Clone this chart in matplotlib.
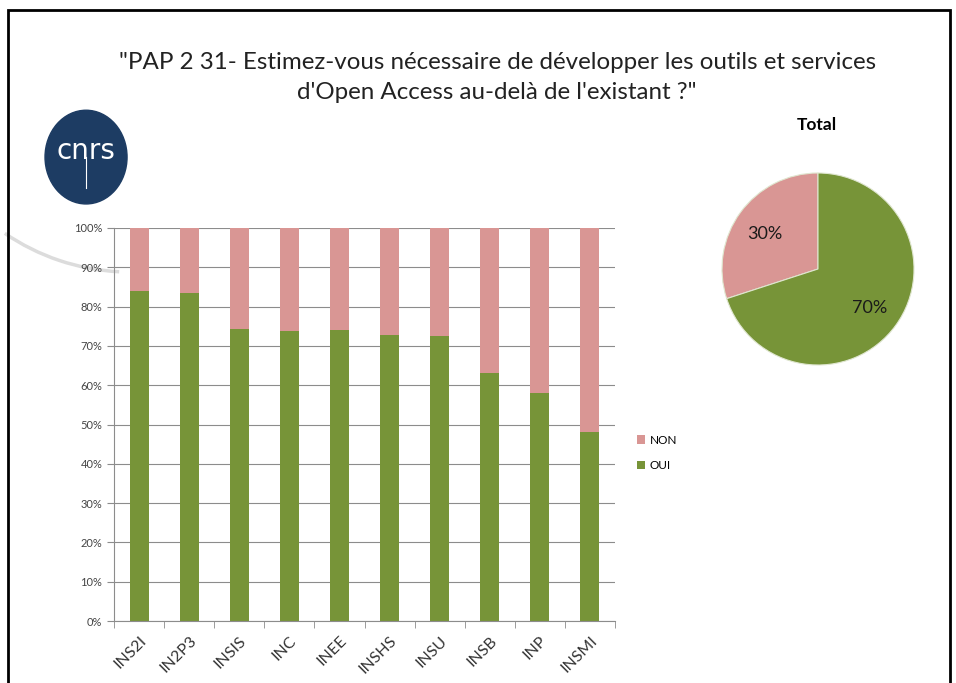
import matplotlib
matplotlib.use("Agg")
from matplotlib import pyplot as plt
from matplotlib.patches import Rectangle, Ellipse, Arc
from matplotlib.ticker import PercentFormatter

instituts = ["INS2I", "IN2P3", "INSIS", "INC", "INEE", "INSHS", "INSU", "INSB", "INP", "INSMI"]
oui = [84.0, 83.5, 74.4, 73.7, 74.0, 72.9, 72.5, 63.0, 57.9, 48.0]
non = [100 - v for v in oui]
total_labels = ["NON", "OUI"]
total_values = [30, 70]

GREEN = "#779438"
PINK = "#D99694"

plt.rcParams["font.family"] = ["Lato", "DejaVu Sans"]

fig = plt.figure(figsize=(9.56, 6.83), dpi=100)

# slide frame
fig.patches.append(Rectangle((8 / 956, -0.05), 942 / 956, 1 - 10 / 683 + 0.05,
                             transform=fig.transFigure, fill=False, lw=2, ec="black"))

fig.text(0.52, 0.909, "\"PAP 2 31- Estimez-vous nécessaire de développer les outils et services",
         ha="center", va="center", fontsize=17.4, color="#222222")
fig.text(0.52, 0.864, "d'Open Access au-delà de l'existant ?\"",
         ha="center", va="center", fontsize=17.4, color="#222222")

# faint decorative arc (slide background)
fig.patches.append(Arc((130 / 956, 1 - 50 / 683), 444 / 956, 444 / 683, theta1=244, theta2=268,
                       transform=fig.transFigure, color="#dcdcdc", lw=2.5, zorder=-5))

# cnrs logo
logo = fig.add_axes([0.035, 0.7, 0.11, 0.14])
logo.set_xlim(0, 1)
logo.set_ylim(0, 1)
logo.axis("off")
logo.add_patch(Ellipse((0.5, 0.5), 0.78, 0.98, color="#1d3c63"))
logo.text(0.5, 0.56, "cnrs", ha="center", va="center", color="white", fontsize=20,
          family="Liberation Sans Narrow")
logo.plot([0.5, 0.5], [0.18, 0.5], color="white", lw=0.8)

# stacked bars
ax = fig.add_axes([114 / 956, 1 - 621 / 683, (615 - 114) / 956, (621 - 228) / 683])
ax.patch.set_alpha(0)
x = range(len(instituts))
ax.bar(x, oui, width=0.38, color=GREEN, label="OUI", zorder=2)
ax.bar(x, non, width=0.38, bottom=oui, color=PINK, label="NON", zorder=2)
ax.set_xlim(-0.5, len(instituts) - 0.5)
ax.set_ylim(0, 100)
ax.set_yticks(range(0, 101, 10))
ax.yaxis.set_major_formatter(PercentFormatter(decimals=0))
ax.yaxis.grid(True, color="#8c8c8c", lw=0.8, zorder=0)
ax.set_xticks(list(x))
ax.set_xticklabels(instituts, rotation=45, ha="right", rotation_mode="anchor", fontsize=11.5)
ax.set_xticks([i + 0.5 for i in range(-1, len(instituts))], minor=True)
ax.tick_params(axis="x", which="major", length=0, pad=9, colors="#333333")
ax.tick_params(axis="x", which="minor", length=5, color="#8c8c8c")
ax.tick_params(axis="y", length=5, color="#8c8c8c", labelsize=8, labelcolor="#444444")
for s in ["top", "right"]:
    ax.spines[s].set_visible(False)
ax.spines["left"].set_color("#8c8c8c")
ax.spines["bottom"].set_color("#8c8c8c")

handles, labels = ax.get_legend_handles_labels()
fig.legend(handles[::-1], labels[::-1], loc="center left", bbox_to_anchor=(0.655, 0.337),
           frameon=False, fontsize=8.5, handlelength=0.7, handleheight=0.7,
           handletextpad=0.4, labelspacing=1.2)

# total pie
half = 120
cx, cy = 818, 269
pax = fig.add_axes([(cx - half) / 956, 1 - (cy + half) / 683, 2 * half / 956, 2 * half / 683])
wedges, texts = pax.pie(total_values, colors=[PINK, GREEN], startangle=90, counterclock=True,
                        labels=[f"{v}%" for v in total_values],
                        wedgeprops=dict(lw=0.8, ec="#dfe6cf"),
                        textprops=dict(fontsize=13, color="#1a1a1a"))
texts[0].set_position((-0.55, 0.36))
texts[1].set_position((0.54, -0.41))
for t in texts:
    t.set_ha("center")
    t.set_va("center")
pax.set_aspect("equal")
fig.text(817 / 956, 1 - 125 / 683, "Total", ha="center", va="center",
         fontsize=12.5, fontweight="bold")

fig.savefig("out.png", dpi=100)
